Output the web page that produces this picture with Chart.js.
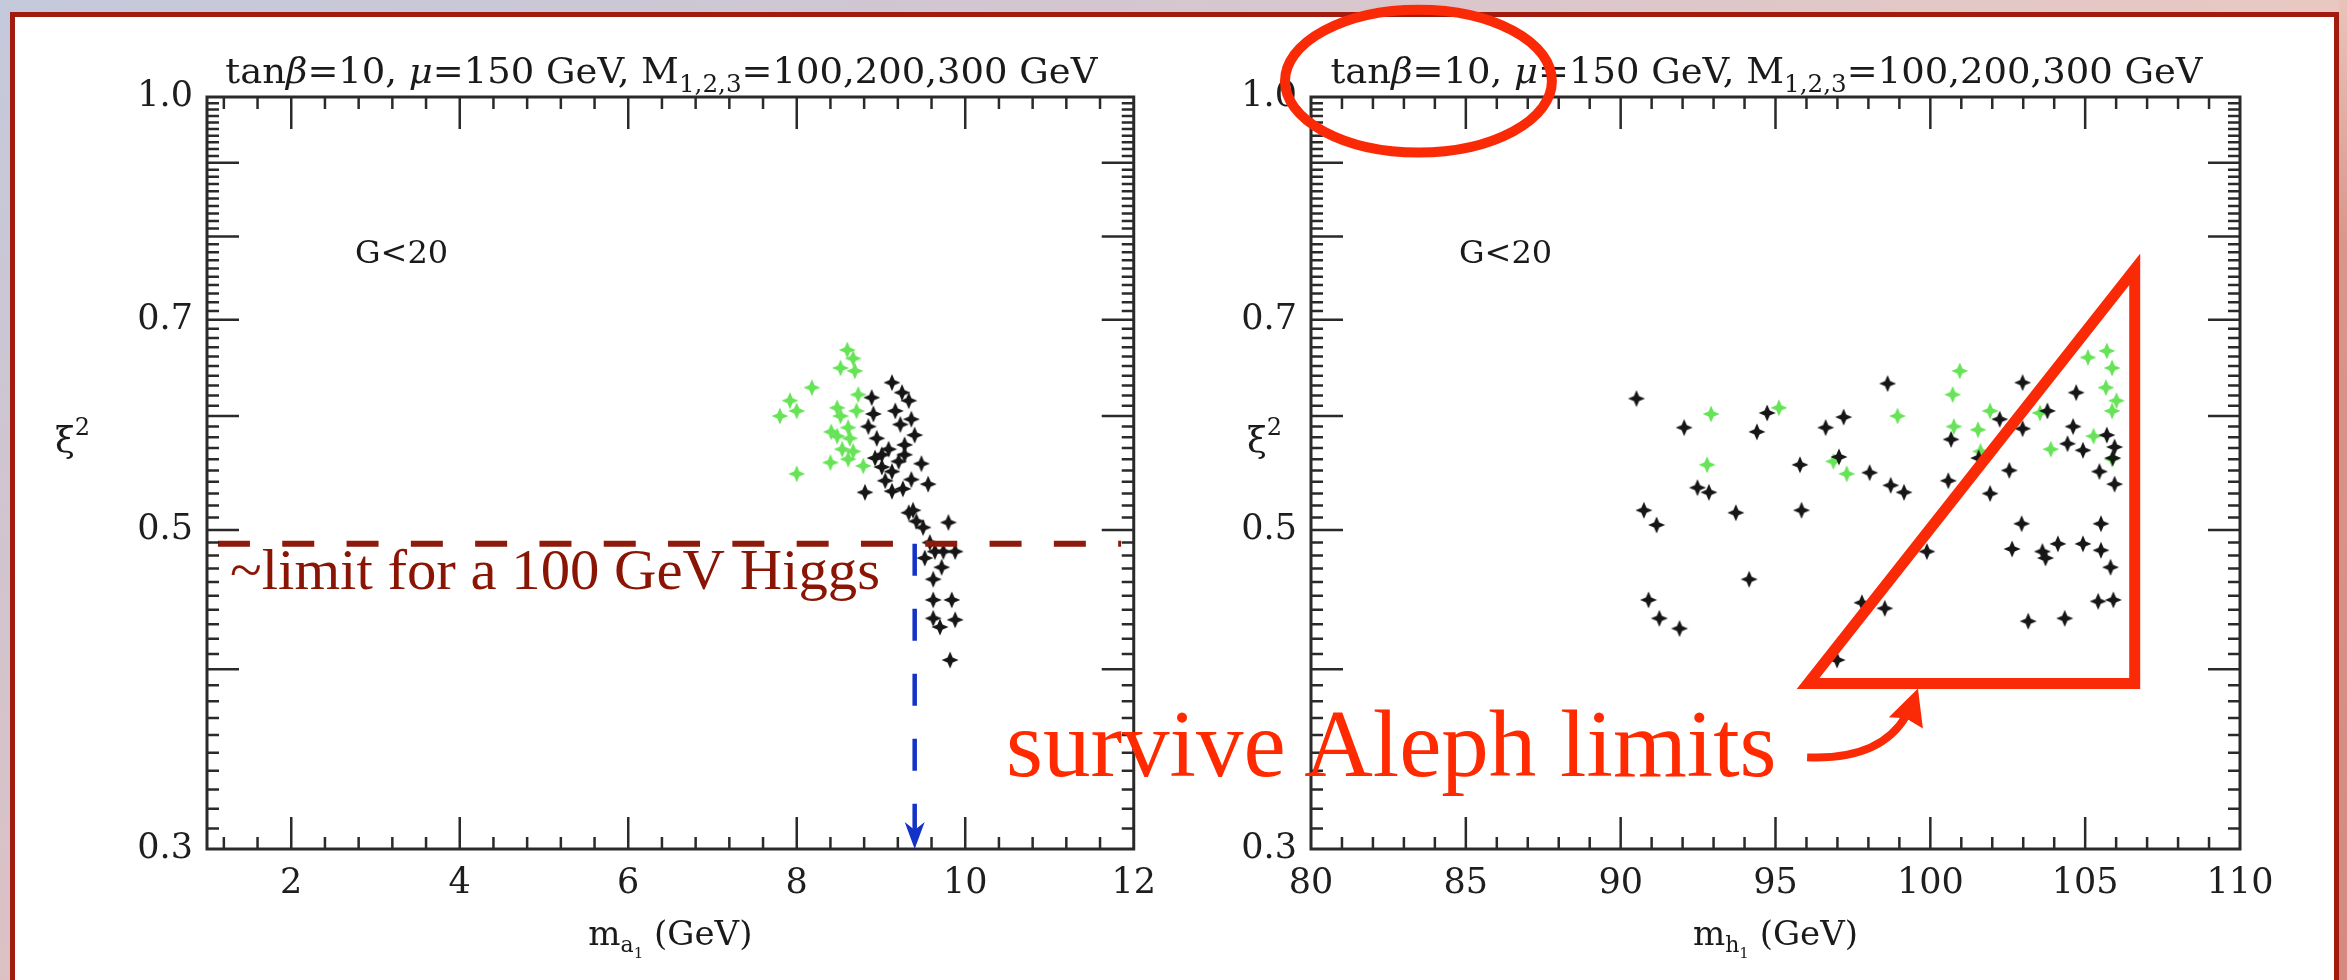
<!DOCTYPE html>
<html>
<head>
<meta charset="utf-8">
<title>xi^2 scan, G&lt;20</title>
<script src="https://cdn.jsdelivr.net/npm/chart.js@4.4.1/dist/chart.umd.min.js"></script>
<style>
  html, body { margin: 0; padding: 0; }
  body {
    width: 2347px; height: 980px; overflow: hidden; position: relative;
    background: linear-gradient(to right, #c3c9db 0%, #d3c6d1 45%, #e9c8c1 100%);
  }
  .strip-left { position: absolute; left: 0; top: 0; width: 10px; height: 980px;
    background: linear-gradient(to bottom, #c3c9db, #dcc0c4); }
  .strip-right { position: absolute; right: 0; top: 0; width: 8px; height: 980px;
    background: linear-gradient(to bottom, #e9c3ba, #d9968b 25%, #d48a7f); }
  .frame { position: absolute; left: 10px; top: 12px; width: 2329px; height: 1000px;
    box-sizing: border-box; border: 5px solid #a11c0e; background: #fff; }
  canvas { position: absolute; top: 0; }
  #leftPanel { left: 0; }
  #rightPanel { left: 1170px; }
  .callout { position: absolute; left: 1006px; top: 697px; white-space: nowrap;
    font: 95px 'Liberation Serif', 'Times New Roman', serif; line-height: 1; color: #ff2a00; }
</style>
</head>
<body>
<div class="strip-left"></div>
<div class="strip-right"></div>
<div class="frame"></div>
<canvas id="leftPanel" width="1170" height="980"></canvas>
<canvas id="rightPanel" width="1177" height="980"></canvas>
<div class="callout">survive Aleph limits</div>

<script>
// ---- left panel: xi^2 against m_a1 ----
const massA_green = [8.60, 8.67, 8.52, 8.69, 8.18, 7.92, 8.00, 7.80, 8.48, 8.73, 8.71, 8.52, 8.61, 8.48, 8.63, 8.54, 8.67, 8.40, 8.61, 8.79, 8.00, 8.41];
const xi2A_green  = [0.667, 0.658, 0.648, 0.645, 0.628, 0.615, 0.605, 0.600, 0.608, 0.621, 0.605, 0.600, 0.589, 0.581, 0.579, 0.569, 0.567, 0.557, 0.560, 0.554, 0.547, 0.585];
const massA_black = [9.13, 9.25, 8.89, 9.17, 8.91, 9.36, 9.23, 8.85, 9.40, 9.28, 9.09, 8.93, 9.28, 9.48, 9.13, 9.36, 9.56, 9.13, 8.81, 9.38,
                     9.42, 9.80, 9.58, 9.74, 9.88, 9.52, 9.72, 9.62, 9.62, 9.84, 9.62, 9.88, 9.70, 9.82, 9.01, 9.01, 9.21, 9.05, 9.26, 8.95,
                     9.33, 9.33, 9.50, 9.64];
const xi2A_black  = [0.633, 0.623, 0.618, 0.605, 0.602, 0.597, 0.592, 0.590, 0.582, 0.573, 0.569, 0.561, 0.564, 0.556, 0.549, 0.542, 0.538, 0.532, 0.531, 0.516,
                     0.507, 0.506, 0.490, 0.483, 0.483, 0.478, 0.471, 0.462, 0.447, 0.447, 0.434, 0.433, 0.428, 0.406, 0.553, 0.564, 0.558, 0.541, 0.534, 0.579,
                     0.615, 0.514, 0.502, 0.483];

// ---- right panel: xi^2 against m_h1 ----
const massH_green = [92.92, 95.11, 92.79, 96.87, 97.30, 98.94, 100.95, 100.72, 100.76, 101.54, 101.93, 101.62, 103.54, 103.89, 105.09, 105.70, 105.87, 105.67, 106.01, 105.87, 105.27, 105.87];
const xi2H_green  = [0.602, 0.608, 0.555, 0.558, 0.547, 0.600, 0.645, 0.621, 0.590, 0.587, 0.605, 0.567, 0.603, 0.569, 0.659, 0.666, 0.648, 0.628, 0.615, 0.605, 0.581, 0.560];
const massH_black = [90.51, 92.05, 94.73, 94.40, 96.62, 97.20, 98.62, 97.05, 95.79, 98.04, 98.72, 99.15, 92.48, 92.85, 90.75, 91.16, 93.72, 95.84, 94.15, 90.90,
                     91.25, 91.90, 97.79, 98.53, 96.99, 99.89, 100.58, 100.67, 101.93, 102.24, 102.98, 102.98, 102.55, 101.56, 103.78, 104.71, 104.61, 104.43, 104.93, 105.70,
                     105.95, 105.89, 105.46, 105.95, 102.95, 105.51, 102.64, 103.62, 103.72, 104.12, 104.93, 105.51, 105.82, 105.42, 105.91, 103.16, 104.34];
const xi2H_black  = [0.617, 0.589, 0.603, 0.585, 0.589, 0.599, 0.632, 0.562, 0.555, 0.548, 0.537, 0.531, 0.535, 0.531, 0.516, 0.504, 0.514, 0.516, 0.462, 0.447,
                     0.434, 0.427, 0.445, 0.441, 0.406, 0.483, 0.541, 0.578, 0.530, 0.597, 0.633, 0.588, 0.550, 0.561, 0.605, 0.623, 0.590, 0.574, 0.568, 0.582,
                     0.571, 0.561, 0.549, 0.538, 0.505, 0.505, 0.485, 0.483, 0.478, 0.489, 0.489, 0.484, 0.471, 0.446, 0.447, 0.432, 0.434];

// tick labels
const xLabelsA = [2, 4, 6, 8, 10, 12];
const xLabelsH = [80, 85, 90, 95, 100, 105, 110];
const yLabels = [0.3, 0.5, 0.7, 1.0];

// annotations (in data units of each panel)
const higgsLimit = 0.489;
const limitSpan = [1.13, 11.85];
const arrowMass = 9.40;
const arrowEnd = 0.309;
const triangleX = [96.05, 106.6, 106.6, 96.05, 106.6];
const triangleY = [0.391, 0.391, 0.759, 0.391, 0.391];
const ellipseX = [79.16, 87.78];
const ellipseY = [0.915, 1.15];
const curveX = [96.02, 98.37, 99.21];
const curveY = [0.3474, 0.3457, 0.3710];
const headX = [99.60, 99.76, 99.21, 98.66];
const headY = [0.3879, 0.3639, 0.3698, 0.3704];

const SERIF = "'DejaVu Serif', serif";
const TIMES = "'Liberation Serif', 'Times New Roman', serif";
const RED = '#fb2a06';

const pts = (xs, ys) => xs.map((x, i) => ({ x, y: ys[i] }));

// four-pointed star used as the plot marker
function makeStar(color) {
    const c = document.createElement('canvas');
    c.width = c.height = 22;
    const g = c.getContext('2d');
    g.filter = 'blur(0.7px)';
    g.fillStyle = color;
    const m = 11, r = 8.5, k = 2.6;
    g.beginPath();
    g.moveTo(m, m - r); g.lineTo(m + k, m - k); g.lineTo(m + r, m); g.lineTo(m + k, m + k);
    g.lineTo(m, m + r); g.lineTo(m - k, m + k); g.lineTo(m - r, m); g.lineTo(m - k, m - k);
    g.closePath();
    g.fill();
    return c;
}
const starBlack = makeStar('#161616');
const starGreen = makeStar('#66e357');

function scatterSet(data, sprite, order) {
    return { data, pointStyle: sprite, pointRadius: 6, showLine: false, order };
}

function lineSet(data, color, width, dash, order) {
    return {
        data, showLine: true, pointRadius: 0, borderColor: color, borderWidth: width,
        borderDash: dash, borderJoinStyle: 'miter', borderCapStyle: 'butt', fill: false, order
    };
}

// text made of runs with sub/superscripts
function runsWidth(ctx, runs) {
    return runs.reduce((w, r) => {
        ctx.font = `${r.italic ? 'italic ' : ''}${r.size}px ${r.family || SERIF}`;
        return w + ctx.measureText(r.text).width;
    }, 0);
}
function drawRuns(ctx, runs, x, y) {
    runs.forEach(r => {
        ctx.font = `${r.italic ? 'italic ' : ''}${r.size}px ${r.family || SERIF}`;
        ctx.fillText(r.text, x, y + (r.dy || 0));
        x += ctx.measureText(r.text).width;
    });
}
function drawCentered(ctx, runs, cx, y, fitWidth) {
    const w = runsWidth(ctx, runs);
    const sx = fitWidth ? fitWidth / w : 1;
    ctx.save();
    ctx.translate(cx - w * sx / 2, y);
    ctx.scale(sx, 1);
    drawRuns(ctx, runs, 0, 0);
    ctx.restore();
}

const titleRuns = [
    { text: 'tan', size: 36 }, { text: 'β', size: 36, italic: true }, { text: '=10, ', size: 36 },
    { text: 'μ', size: 36, italic: true }, { text: '=150 GeV, M', size: 36 },
    { text: '1,2,3', size: 24, dy: 9 }, { text: '=100,200,300 GeV', size: 36 }
];

// box, inward ticks on all four sides, titles
function makeDecor(cfg) {
    return {
        id: 'decor',
        afterDraw(chart) {
            const { ctx, chartArea: a } = chart;
            const xs = chart.scales.x, ys = chart.scales.y;
            ctx.save();
            ctx.strokeStyle = '#2a2a2a';
            ctx.lineWidth = 2.5;
            ctx.beginPath();
            cfg.xTicks.forEach(t => {
                const p = xs.getPixelForValue(t.v), len = t.major ? 32 : 12;
                ctx.moveTo(p, a.bottom); ctx.lineTo(p, a.bottom - len);
                ctx.moveTo(p, a.top); ctx.lineTo(p, a.top + len);
            });
            for (let i = 31; i < 100; i++) {
                const p = ys.getPixelForValue(i / 100), len = i % 10 === 0 ? 32 : 12;
                ctx.moveTo(a.left, p); ctx.lineTo(a.left + len, p);
                ctx.moveTo(a.right, p); ctx.lineTo(a.right - len, p);
            }
            ctx.stroke();
            ctx.lineWidth = 3;
            ctx.strokeRect(a.left, a.top, a.right - a.left, a.bottom - a.top);

            ctx.fillStyle = '#1a1a1a';
            ctx.textBaseline = 'alphabetic';
            ctx.textAlign = 'left';
            const cx = (a.left + a.right) / 2;
            drawCentered(ctx, titleRuns, cx - 9, 83, 872);
            drawCentered(ctx, [
                { text: 'm', size: 34 }, { text: cfg.sub, size: 22, dy: 7 },
                { text: '1', size: 15, dy: 13 }, { text: ' (GeV)', size: 34 }
            ], cx, 945);
            ctx.font = `32px ${SERIF}`;
            ctx.fillText('G<20', a.left + 148, 263);
            drawRuns(ctx, [{ text: 'ξ', size: 36 }, { text: '2', size: 24, dy: -17 }], a.left + cfg.xiOffset, 452);
            ctx.restore();
        }
    };
}

function tickList(from, to, step, majorEvery) {
    const list = [];
    for (let i = Math.ceil(from / step); i * step <= to + 1e-9; i++) {
        list.push({ v: Math.round(i * step * 100) / 100, major: i % majorEvery === 0 });
    }
    return list;
}

function panelOptions(xMin, xMax, xLabels, yWidth, padRight) {
    const tickFont = { family: SERIF, size: 35 };
    return {
        responsive: false,
        animation: false,
        events: [],
        layout: { padding: { left: 0, top: 97, right: padRight, bottom: 0 } },
        plugins: { legend: { display: false }, tooltip: { enabled: false } },
        scales: {
            x: {
                type: 'linear', min: xMin, max: xMax,
                afterBuildTicks: s => { s.ticks = xLabels.map(v => ({ value: v })); },
                afterFit: s => { s.height = 131; },
                grid: { display: false, drawTicks: false },
                border: { display: false },
                ticks: { font: tickFont, color: '#1e1e1e', padding: 14, maxRotation: 0, autoSkip: false, callback: v => String(v) }
            },
            y: {
                type: 'logarithmic', min: 0.3, max: 1.0,
                afterBuildTicks: s => { s.ticks = yLabels.map(v => ({ value: v })); },
                afterFit: s => { s.width = yWidth; },
                grid: { display: false, drawTicks: false },
                border: { display: false },
                ticks: { font: tickFont, color: '#1e1e1e', padding: 14, autoSkip: false, callback: v => Number(v).toFixed(1) }
            }
        }
    };
}

// left panel extras: arrowhead at the axis and the limit caption
const leftNotes = {
    id: 'leftNotes',
    afterDraw(chart) {
        const { ctx, chartArea: a } = chart;
        const px = chart.scales.x.getPixelForValue(arrowMass);
        const tip = chart.scales.y.getPixelForValue(0.3);
        ctx.save();
        ctx.fillStyle = '#1232c8';
        ctx.beginPath();
        ctx.moveTo(px, tip);
        ctx.lineTo(px - 10, tip - 27);
        ctx.lineTo(px, tip - 19);
        ctx.lineTo(px + 10, tip - 27);
        ctx.closePath();
        ctx.fill();

        const base = chart.scales.y.getPixelForValue(higgsLimit) + 45;
        const text = '~limit for a 100 GeV Higgs';
        ctx.font = `58px ${TIMES}`;
        const w = ctx.measureText(text).width;
        ctx.translate(a.left + 23, base);
        ctx.scale(650 / w, 1);
        ctx.fillStyle = '#8b1505';
        ctx.fillText(text, 0, 0);
        ctx.restore();
    }
};

// right panel extras: ellipse round the parameters and the curved pointer
const rightNotes = {
    id: 'rightNotes',
    afterDraw(chart) {
        const { ctx } = chart;
        const xs = chart.scales.x, ys = chart.scales.y;
        ctx.save();
        ctx.strokeStyle = RED;
        ctx.fillStyle = RED;

        const l = xs.getPixelForValue(ellipseX[0]), r = xs.getPixelForValue(ellipseX[1]);
        const b = ys.getPixelForValue(ellipseY[0]), t = ys.getPixelForValue(ellipseY[1]);
        ctx.lineWidth = 10;
        ctx.beginPath();
        ctx.ellipse((l + r) / 2, (t + b) / 2, (r - l) / 2, (b - t) / 2, 0, 0, Math.PI * 2);
        ctx.stroke();

        const cp = curveX.map((x, i) => [xs.getPixelForValue(x), ys.getPixelForValue(curveY[i])]);
        ctx.lineWidth = 8;
        ctx.lineCap = 'butt';
        ctx.beginPath();
        ctx.moveTo(cp[0][0], cp[0][1]);
        ctx.quadraticCurveTo(cp[1][0], cp[1][1], cp[2][0], cp[2][1]);
        ctx.stroke();

        ctx.beginPath();
        headX.forEach((x, i) => {
            const hx = xs.getPixelForValue(x), hy = ys.getPixelForValue(headY[i]);
            if (i === 0) ctx.moveTo(hx, hy); else ctx.lineTo(hx, hy);
        });
        ctx.closePath();
        ctx.fill();
        ctx.restore();
    }
};

new Chart(document.getElementById('leftPanel'), {
    type: 'scatter',
    data: {
        datasets: [
            lineSet(pts(limitSpan, [higgsLimit, higgsLimit]), '#8d1a0b', 6, [32, 32.3], 0),
            lineSet(pts([arrowMass, arrowMass], [higgsLimit, arrowEnd]), '#1232c8', 4.5, [32, 33], 0),
            scatterSet(pts(massA_black, xi2A_black), starBlack, 1),
            scatterSet(pts(massA_green, xi2A_green), starGreen, 2)
        ]
    },
    options: panelOptions(1, 12, xLabelsA, 207, 34),
    plugins: [makeDecor({ xTicks: tickList(1.2, 11.6, 0.4, 5), sub: 'a', xiOffset: -152 }), leftNotes]
});

new Chart(document.getElementById('rightPanel'), {
    type: 'scatter',
    data: {
        datasets: [
            lineSet(pts(triangleX, triangleY), RED, 11, [], 0),
            scatterSet(pts(massH_black, xi2H_black), starBlack, 1),
            scatterSet(pts(massH_green, xi2H_green), starGreen, 2)
        ]
    },
    options: panelOptions(80, 110, xLabelsH, 141, 107),
    plugins: [makeDecor({ xTicks: tickList(81, 109, 1, 5), sub: 'h', xiOffset: -64 }), rightNotes]
});
</script>
</body>
</html>
